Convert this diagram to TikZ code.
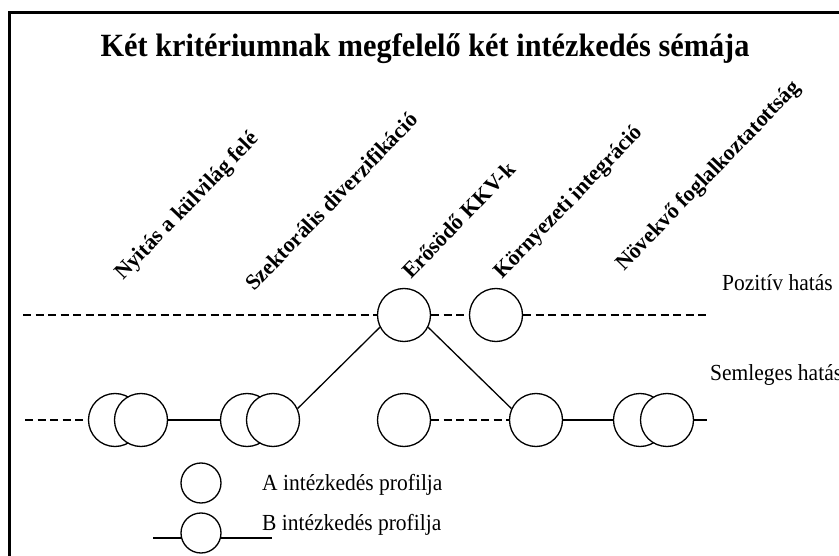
\documentclass[tikz,border=0pt]{standalone}
\usepackage{fontspec}
\setmainfont{Liberation Serif}
% slightly taller lettering
\newcommand\tallbox[1]{\scalebox{1}[1.07]{#1}}
\begin{document}
\begin{tikzpicture}[x=1pt,y=-1pt,
  ring/.style={circle,draw,fill=white,line width=1.3pt,minimum size=53pt,inner sep=0pt},
  smallring/.style={ring,minimum size=40pt},
  link/.style={line width=1.3pt},
  guide/.style={line width=1.3pt,dash pattern=on 8pt off 4.5pt},
  crit/.style={font=\fontsize{22}{22}\selectfont\bfseries,rotate=46,anchor=base west,inner sep=0pt},
  lbl/.style={font=\fontsize{21.5}{21.5}\selectfont,anchor=base west,inner sep=0pt}]
\useasboundingbox (0,0) rectangle (839,556);
\clip (0,0) rectangle (839,556);

% frame
\draw[line width=3.5pt] (9.5,600) -- (9.5,12.5) -- (900,12.5);

% title
\node[font=\fontsize{30.3}{30.3}\selectfont\bfseries,anchor=base,inner sep=0pt] (title) at (425,57)
  {\tallbox{Két kritériumnak megfelelő két intézkedés sémája}};

% criteria
\node[crit] (c1) at (123,281) {Nyitás a külvilág felé};
\node[crit] (c2) at (254,292) {Szektorális diverzifikáció};
\node[crit] (c3) at (411,280) {Erősödő KKV-k};
\node[crit] (c4) at (502,280) {Környezeti integráció};
\node[crit] (c5) at (624,272) {Növekvő foglalkoztatottság};

% level labels
\node[lbl] (pos) at (722,291) {\tallbox{Pozitív hatás}};
\node[lbl] (neu) at (710,381) {\tallbox{Semleges hatás}};

% line ends
\coordinate (pL) at (23,315);
\coordinate (pR) at (707,315);
\coordinate (nL) at (25,420);
\coordinate (nR) at (707,420);

% profile circles
\node[ring] (a1) at (115,420) {};
\node[ring] (b1) at (141,420) {};
\node[ring] (a2) at (247,420) {};
\node[ring] (b2) at (273,420) {};
\node[ring] (b3) at (404,315) {};
\node[ring] (a3) at (404,420) {};
\node[ring] (a4) at (496,315) {};
\node[ring] (b4) at (536,420) {};
\node[ring] (a5) at (640,420) {};
\node[ring] (b5) at (667,420) {};

% dashed levels
\draw[guide] (pL) -- (b3.west);
\draw[guide] (b3.east) -- (a4.west);
\draw[guide] (a4.east) -- (pR);
\draw[guide] (nL) -- (a1.west);
\draw[guide] (a3.east) -- (b4.west);

% profile of B
\draw[link] (b1.east) -- (a2.west);
\draw[link] (b2.25) -- (b3.207);
\draw[link] (b3.-27) -- (b4.155);
\draw[link] (b4.east) -- (a5.west);
\draw[link] (b5.east) -- (nR);

% legend
\coordinate (lb1) at (153,538);
\coordinate (lb2) at (272,538);
\node[smallring] (la) at (201,483) {};
\draw[link] (lb1) -- (lb2);
\node[smallring] (lb) at (201,533) {};
\node[lbl] (ta) at (262,490) {\tallbox{A intézkedés profilja}};
\node[lbl] (tb) at (262,530) {\tallbox{B intézkedés profilja}};
\end{tikzpicture}
\end{document}
